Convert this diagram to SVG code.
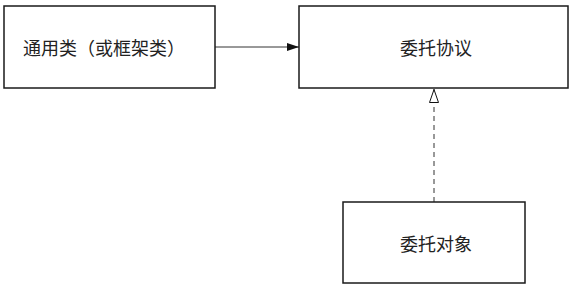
<svg xmlns="http://www.w3.org/2000/svg" width="575" height="289" viewBox="0 0 575 289">
<style>
.box{fill:#fff;stroke:#1a1a1a;stroke-width:1.5}
.t{font-family:"Noto Sans CJK SC","Noto Sans",sans-serif;font-size:18px;fill:#222;text-anchor:middle;dominant-baseline:central}
.c{fill:none;stroke:#333;stroke-width:1}
</style>
<defs>
<marker id="solid" viewBox="0 0 12 8" refX="12" refY="4" markerWidth="12" markerHeight="8" markerUnits="userSpaceOnUse" orient="auto">
<path d="M0,0 L12,4 L0,8 Z" fill="#111"/>
</marker>
<marker id="hollow" viewBox="0 0 14 10" refX="14" refY="5" markerWidth="14" markerHeight="10" markerUnits="userSpaceOnUse" orient="auto">
<path d="M0.5,0.5 L13.5,5 L0.5,9.5 Z" fill="#fff" stroke="#111" stroke-width="1"/>
</marker>
</defs>
<g id="connectors">
<line class="c" x1="215" y1="47" x2="299" y2="47" marker-end="url(#solid)"/>
<line class="c" x1="434" y1="202" x2="434" y2="89" stroke-dasharray="5,4" marker-end="url(#hollow)"/>
</g>
<g id="generic">
<rect class="box" x="4" y="6" width="211" height="82"/>
<text class="t" x="104" y="47">通用类（或框架类）</text>
</g>
<g id="protocol">
<rect class="box" x="299" y="6" width="269" height="82"/>
<text class="t" x="436" y="47">委托协议</text>
</g>
<g id="delegate">
<rect class="box" x="343" y="202" width="182" height="81"/>
<text class="t" x="436" y="243">委托对象</text>
</g>
</svg>
